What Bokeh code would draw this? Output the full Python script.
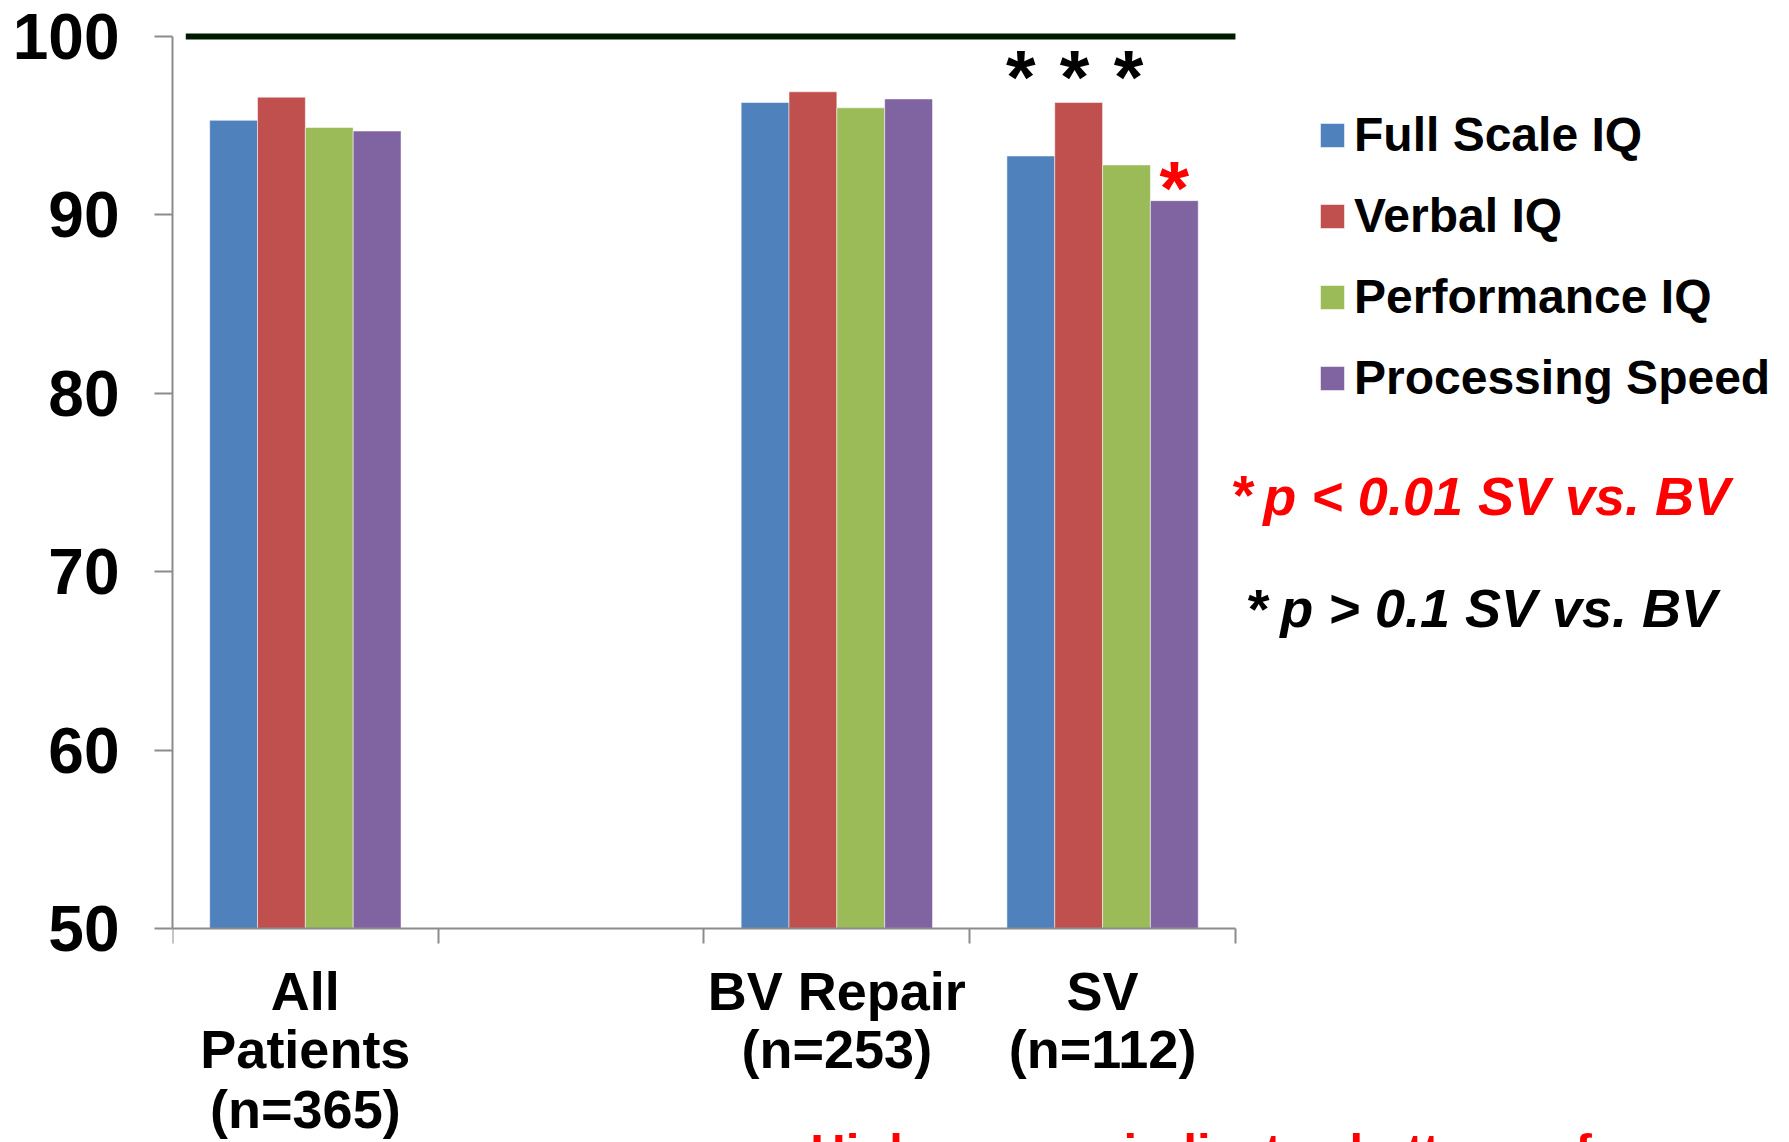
from bokeh.plotting import figure
from bokeh.models import ColumnDataSource, Range1d, FixedTicker, Label, Legend, LegendItem
from bokeh.transform import dodge
from bokeh.core.properties import value
from bokeh.embed import file_html
from bokeh.resources import INLINE

# ---- data -------------------------------------------------------------
group_lines = [["All", "Patients", "(n=365)"], ["BV Repair", "(n=253)"], ["SV", "(n=112)"]]
group_slot = [0, 2, 3]          # slot 1 of the category axis is left empty
series = ["Full Scale IQ", "Verbal IQ", "Performance IQ", "Processing Speed"]
colors = ["#4F81BD", "#C0504D", "#9BBB59", "#8064A2"]
full_scale = [95.3, 96.3, 93.3]
verbal = [96.6, 96.9, 96.3]
performance = [94.9, 96.0, 92.8]
processing = [94.7, 96.5, 90.8]
y_ticks = [50, 60, 70, 80, 90, 100]
norm_level = 100

# significance marks over the SV group (one per series)
sv_marks = ["*", "*", "*", "*"]
sv_mark_colors = ["black", "black", "black", "#FF0000"]
sv_mark_levels = [98.2, 98.2, 98.2, 92.0]

footnote = "Higher score indicates better performance"

FONT = "Liberation Sans"
n_slots = 4
bar_w = 0.18
offsets = [-0.27, -0.09, 0.09, 0.27]
mark_nudge = [-10, -4, 2, 0]    # px, spreads the asterisks slightly
y_base = 50

centers = [s + 0.5 for s in group_slot]
src = ColumnDataSource(dict(x=centers, full=full_scale, verbal=verbal,
                            perf=performance, proc=processing))

# the frame fills the whole canvas height; the category axis floats at y = 50
p = figure(width=1789, height=1142,
           x_range=Range1d(0, 6.085), y_range=Range1d(38.004, 102.018),
           x_axis_location="above",
           output_backend="svg", toolbar_location=None,
           min_border_left=172, min_border_right=0,
           min_border_top=0, min_border_bottom=0,
           outline_line_color=None, background_fill_color="white")
p.xgrid.visible = False
p.ygrid.visible = False

# ---- bars ---------------------------------------------------------------
renderers = []
for col, off, c in zip(["full", "verbal", "perf", "proc"], offsets, colors):
    r = p.vbar(x=dodge("x", off), top=col, bottom=y_base, width=bar_w, source=src,
               fill_color=c, line_color="white", line_alpha=0.5, line_width=1)
    renderers.append(r)

# population norm line
p.line(x=[0.05, n_slots], y=[norm_level, norm_level], line_color="#001A00", line_width=6)

# significance asterisks over the SV bars
sv_center = group_slot[-1] + 0.5
star_src = ColumnDataSource(dict(x=[sv_center + o for o in offsets], y=sv_mark_levels,
                                 t=sv_marks, c=sv_mark_colors, dx=mark_nudge))
p.text(x="x", y="y", text="t", text_color="c", source=star_src, x_offset="dx",
       text_font=value(FONT), text_font_style="bold", text_font_size="76px",
       text_align="center", text_baseline="middle", y_offset=8)

# ---- axes ---------------------------------------------------------------
ax = p.xaxis[0]
ax.fixed_location = y_base
ax.ticker = FixedTicker(ticks=list(range(n_slots + 1)))
ax.bounds = (0, n_slots)
ax.major_label_overrides = {i: "" for i in range(n_slots + 1)}
ax.major_label_text_font_size = "1px"
ax.major_label_standoff = 0
ax.major_tick_out = 0
ax.major_tick_in = 15
ax.minor_tick_out = 0
ax.minor_tick_in = 0
ax.axis_line_color = "#8C8C8C"
ax.axis_line_width = 2
ax.major_tick_line_color = "#8C8C8C"
ax.major_tick_line_width = 2

ay = p.yaxis[0]
ay.ticker = FixedTicker(ticks=y_ticks)
ay.bounds = (y_base, 100)
ay.major_tick_out = 18
ay.major_tick_in = 0
ay.minor_tick_out = 0
ay.minor_tick_in = 0
ay.axis_line_color = "#8C8C8C"
ay.axis_line_width = 2
ay.major_tick_line_color = "#8C8C8C"
ay.major_tick_line_width = 2
ay.major_label_text_font = FONT
ay.major_label_text_font_style = "bold"
ay.major_label_text_font_size = "64px"
ay.major_label_text_color = "black"
ay.major_label_standoff = 35

# ---- category labels under the axis -------------------------------------
line_levels = [46.52, 43.27, 39.90]
lx, ly, lt = [], [], []
for x, lines in zip(centers, group_lines):
    for k, txt in enumerate(lines):
        lx.append(x)
        ly.append(line_levels[k])
        lt.append(txt)
p.text(x=lx, y=ly, text=lt, text_align="center", text_baseline="alphabetic",
       text_font=value(FONT), text_font_style="bold", text_font_size="54px",
       text_color="black")

# ---- legend ---------------------------------------------------------------
legend = Legend(items=[LegendItem(label=s, renderers=[r]) for s, r in zip(series, renderers)],
                location=(1145, 737), orientation="vertical",
                label_text_font=FONT, label_text_font_style="bold",
                label_text_font_size="48px", label_text_color="black",
                glyph_width=30, glyph_height=30, label_standoff=7,
                spacing=26, padding=0, margin=0,
                border_line_color=None, background_fill_alpha=0)
p.add_layout(legend)

# ---- significance key -----------------------------------------------------
p.add_layout(Label(x=4.031, y=74.33, text="*", text_align="center", text_baseline="middle",
                   text_font=FONT, text_font_style="bold", text_font_size="56px",
                   text_color="#FF0000"))
p.add_layout(Label(x=4.105, y=74.27, text="p < 0.01 SV vs. BV", text_align="left",
                   text_baseline="alphabetic", text_font=FONT, text_font_style="bold italic",
                   text_font_size="54px", text_color="#FF0000"))
p.add_layout(Label(x=4.087, y=67.96, text="*", text_align="center", text_baseline="middle",
                   text_font=FONT, text_font_style="bold", text_font_size="56px",
                   text_color="black"))
p.add_layout(Label(x=4.169, y=67.99, text="p > 0.1 SV vs. BV", text_align="left",
                   text_baseline="alphabetic", text_font=FONT, text_font_style="bold italic",
                   text_font_size="54px", text_color="black"))

# footnote running off the bottom edge
p.text(x=[2.40], y=[37.55], text=[footnote], text_align="left", text_baseline="alphabetic",
       text_font=value(FONT), text_font_style="bold", text_font_size="49px",
       text_color="#FF0000")

open("out.html", "w").write(file_html(p, INLINE))
